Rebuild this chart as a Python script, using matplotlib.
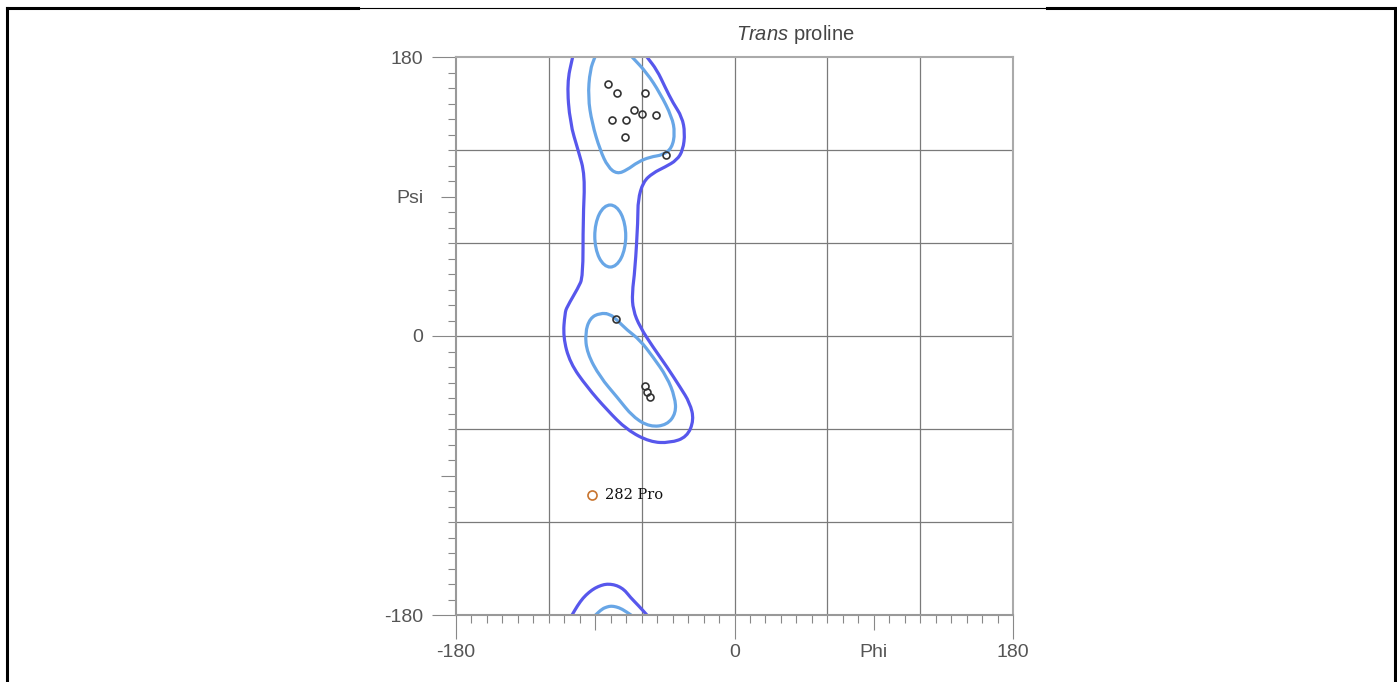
import matplotlib
matplotlib.use("Agg")
import matplotlib.pyplot as plt
from matplotlib.patches import Ellipse, PathPatch
from matplotlib.path import Path
from matplotlib.lines import Line2D

# ---- data (phi, psi in degrees) ----
# residues inside the favoured regions
pts_phi = [-81.9, -75.7, -57.8, -64.8, -59.8, -50.7, -79.0, -69.9, -70.8, -44.1,
           -76.8, -57.8, -56.7, -54.8]
pts_psi = [162.6, 156.6, 156.6, 145.6, 143.0, 142.8, 139.5, 139.5, 128.6, 116.6,
           10.8, -32.1, -35.9, -39.4]

# outlier
out_phi = -91.8
out_psi = -102.6
out_label = "282 Pro"

# outer contour (allowed), main body from top edge down and back up
outer_phi = [-104.6, -108.3, -106.3, -101.1, -96.6, -97.9, -97.9, -101.1, -108.3,
             -109.6, -110.8, -106.3, -95.3, -82.4, -69.5, -54.6, -41.7, -30.7,
             -26.2, -28.8, -35.2, -43.6, -52.7, -61.1, -65.6, -66.2, -64.3, -62.4,
             -62.4, -59.1, -52.7, -44.9, -37.2, -33.3, -32.0, -33.9, -39.7, -44.9,
             -50.1, -56.6]
outer_psi = [180.0, 163.2, 137.4, 120.0, 103.9, 74.8, 38.1, 31.0, 18.7,
             14.8, -0.6, -17.4, -32.9, -47.7, -60.6, -68.4, -69.0, -65.2,
             -54.2, -43.2, -32.9, -20.0, -7.1, 5.8, 16.8, 27.7, 42.6, 74.8,
             87.7, 99.4, 105.2, 109.0, 113.5, 120.0, 131.0, 141.3, 150.3, 160.6,
             171.6, 180.0]
# outer contour wrapping round at the bottom edge
outer_bot_phi = [-105.0, -101.5, -97.9, -94.0, -90.2, -86.0, -82.4, -78.0, -74.0,
                 -70.5, -67.5, -62.0, -56.6]
outer_bot_psi = [-180.0, -174.0, -169.0, -165.3, -162.6, -160.8, -160.0, -160.4,
                 -161.9, -164.5, -168.4, -174.0, -180.0]

# inner contour (favoured), beta region, open at the top edge
inner_top_phi = [-90.2, -93.4, -94.7, -92.1, -86.9, -81.8, -75.9, -69.5, -62.4,
                 -54.6, -46.2, -40.4, -38.5, -40.4, -48.2, -56.6, -66.2]
inner_top_psi = [180.0, 171.6, 154.2, 137.4, 120.0, 109.0, 104.5, 107.1, 112.3,
                 115.5, 116.8, 121.3, 131.0, 141.3, 156.8, 169.7, 180.0]
inner_bot_phi = [-89.8, -85.6, -82.5, -79.8, -76.5, -72.7, -66.9]
inner_bot_psi = [-180.0, -176.1, -174.8, -174.2, -174.7, -176.1, -180.0]

# inner contour, alpha region (closed)
inner_low_phi = [-86.9, -93.4, -96.6, -95.3, -86.9, -75.9, -65.6, -54.6, -43.6,
                 -37.8, -38.5, -43.6, -52.7, -61.1, -69.5, -75.9, -80.5, -86.9]
inner_low_psi = [14.8, 11.6, 1.9, -11.0, -26.5, -39.4, -52.3, -58.7, -57.4,
                 -49.7, -39.4, -26.5, -13.5, -2.6, 3.9, 10.3, 14.2, 14.8]

# inner contour, small island (centre, width, height)
island_center = (-80.3, 64.5)
island_w = 20.0
island_h = 40.0

dark_blue = "#5757EC"
light_blue = "#68A6E6"

plt.rcParams['font.family'] = 'Liberation Sans'
plt.rcParams['mathtext.fontset'] = 'custom'
plt.rcParams['mathtext.it'] = 'Liberation Sans:italic'
plt.rcParams['mathtext.rm'] = 'Liberation Sans'


def rounded_path(xs, ys, closed=False):
    # draw the traced vertices as a rounded polyline (quadratic bezier corners)
    P = list(zip(xs, ys))
    if closed:
        P = P[:-1]
        n = len(P)
        mids = [((P[i][0] + P[(i+1) % n][0]) / 2, (P[i][1] + P[(i+1) % n][1]) / 2)
                for i in range(n)]
        verts = [mids[-1]]
        codes = [Path.MOVETO]
        for i in range(n):
            verts += [P[i], mids[i]]
            codes += [Path.CURVE3, Path.CURVE3]
        return Path(verts, codes)
    verts = [P[0], ((P[0][0] + P[1][0]) / 2, (P[0][1] + P[1][1]) / 2)]
    codes = [Path.MOVETO, Path.LINETO]
    for i in range(1, len(P) - 1):
        m = ((P[i][0] + P[i+1][0]) / 2, (P[i][1] + P[i+1][1]) / 2)
        verts += [P[i], m]
        codes += [Path.CURVE3, Path.CURVE3]
    verts.append(P[-1])
    codes.append(Path.LINETO)
    return Path(verts, codes)


fig = plt.figure(figsize=(13.97, 6.82), dpi=100)
ax = fig.add_axes([456/1397, 1-615/682, 557/1397, 558/682])
ax.set_xlim(-180, 180)
ax.set_ylim(-180, 180)

# grid
for v in [-120, -60, 0, 60, 120]:
    ax.axvline(v, color="#7a7a7a", lw=0.9, zorder=1)
    ax.axhline(v, color="#7a7a7a", lw=0.9, zorder=1)

# contours
lines = [
    (outer_phi, outer_psi, dark_blue, False),
    (outer_bot_phi, outer_bot_psi, dark_blue, False),
    (inner_top_phi, inner_top_psi, light_blue, False),
    (inner_bot_phi, inner_bot_psi, light_blue, False),
    (inner_low_phi, inner_low_psi, light_blue, True),
]
for xs, ys, c, closed in lines:
    ax.add_patch(PathPatch(rounded_path(xs, ys, closed), fill=False, edgecolor=c,
                           lw=2.3, capstyle='round', joinstyle='round', zorder=2))
ax.add_patch(Ellipse(island_center, island_w, island_h, fill=False,
                     edgecolor=light_blue, lw=2.3, zorder=2))

# points
ax.plot(pts_phi, pts_psi, 'o', ms=5, mfc='none', mec='#333333', mew=1.2, zorder=3)
ax.plot([out_phi], [out_psi], 'o', ms=6.5, mfc='none', mec='#c8742e', mew=1.2, zorder=3)
ax.annotate(out_label, (out_phi, out_psi), xytext=(9, 0), textcoords='offset points',
            va='center', ha='left', family='DejaVu Serif', fontsize=10.5, color='#111111')

# spines
for s in ['left', 'bottom']:
    ax.spines[s].set_color('#999999')
    ax.spines[s].set_linewidth(1.5)
for s in ['top', 'right']:
    ax.spines[s].set_color('#aaaaaa')
    ax.spines[s].set_linewidth(1.5)

# ticks
ax.set_xticks([-180, -90, 0, 90, 180])
ax.set_xticklabels(['-180', '', '0', 'Phi', '180'])
ax.set_yticks([-180, -90, 0, 90, 180])
ax.set_yticklabels(['-180', '', '0', 'Psi', '180'])
minor = [v for v in range(-170, 180, 10) if v not in (-90, 0, 90)]
ax.set_xticks(minor, minor=True)
ax.set_yticks(minor, minor=True)
ax.tick_params(which='major', length=17.5, width=0.8, color='#888888',
               labelsize=14, labelcolor='#555555')
ax.tick_params(axis='x', which='major', pad=3.5)
ax.tick_params(axis='y', which='major', pad=6)
ax.tick_params(which='minor', length=6, width=0.8, color='#888888')
for axis in (ax.xaxis, ax.yaxis):
    ticks = axis.get_major_ticks()
    for i in (1, 3):
        ticks[i].tick1line.set_markersize(11)

# title
fig.text(795/1397, 1-35/682, r'$\it{Trans}$ proline', ha='center', va='center',
         fontsize=14.5, color='#444444')

# page frame
H = 682.0
W = 1397.0
ytop = 1 - 7.5/H
fig.add_artist(Line2D([6.5/W, 6.5/W], [0, ytop], color='k', lw=2.2))
fig.add_artist(Line2D([1394.5/W, 1394.5/W], [0, ytop], color='k', lw=2.2))
fig.add_artist(Line2D([6.5/W, 358/W], [ytop, ytop], color='k', lw=2.2))
fig.add_artist(Line2D([358/W, 1047/W], [ytop, ytop], color='k', lw=0.8))
fig.add_artist(Line2D([1047/W, 1394.5/W], [ytop, ytop], color='k', lw=2.2))

fig.savefig('out.png', dpi=100)
